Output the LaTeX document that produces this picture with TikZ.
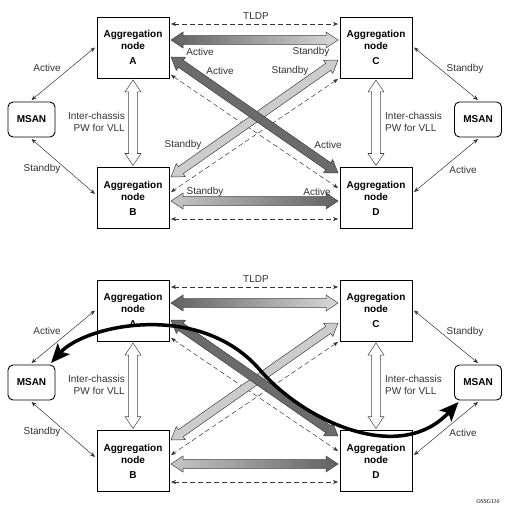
\documentclass[tikz,border=0pt]{standalone}
\usepackage{fontspec}
\setmainfont{Liberation Sans}
\newfontfamily\figfont{Liberation Serif}
\usetikzlibrary{arrows.meta, calc, positioning}

% wide double-headed arrow between two points
\newcommand{\fatarrow}[3][]{%
  \coordinate (fa1) at ($(#2)!12pt!(#3)$);
  \coordinate (fa2) at ($(#3)!12pt!(#2)$);
  \draw[fat, #1] (#2) -- ($(fa1)!8pt!90:(#3)$) -- ($(fa1)!4.3pt!90:(#3)$)
    -- ($(fa2)!4.3pt!-90:(#2)$) -- ($(fa2)!8pt!-90:(#2)$) -- (#3)
    -- ($(fa2)!8pt!90:(#2)$) -- ($(fa2)!4.3pt!90:(#2)$)
    -- ($(fa1)!4.3pt!-90:(#3)$) -- ($(fa1)!8pt!-90:(#3)$) -- cycle;
}

\begin{document}
\begin{tikzpicture}[
    x=1pt, y=-1pt,
    block/.style={rectangle, draw, line width=0.9pt, minimum width=72pt, minimum height=61pt, align=center, font=\bfseries, outer sep=2pt},
    msan/.style={rectangle, draw, rounded corners=5pt, line width=0.9pt, minimum width=47pt, minimum height=35pt, font=\bfseries, outer sep=2pt},
    lbl/.style={text=black!80, inner sep=1pt},
    link/.style={{Stealth[length=5pt,width=4pt]}-{Stealth[length=5pt,width=4pt]}, line width=0.5pt, black!80},
    dashlink/.style={link, dashed, dash pattern=on 5pt off 3pt},
    fat/.style={draw=black!75, line width=0.5pt},
    curve/.style={line width=3.5pt, {Stealth[length=19pt,width=16pt,inset=4pt]}-{Stealth[length=19pt,width=16pt,inset=4pt]}}
]
\useasboundingbox (0,0) rectangle (510,513);

% both panels: same network
\foreach \p/\dy in {t/0, b/263} {
  % Nodes
  \node (\p A) [block] at (133,47.5+\dy) {Aggregation\\node\\[3pt]A};
  \node (\p B) [block] at (133,198+\dy) {Aggregation\\node\\[3pt]B};
  \node (\p C) [block] at (376,47.5+\dy) {Aggregation\\node\\[3pt]C};
  \node (\p D) [block] at (376,198+\dy) {Aggregation\\node\\[3pt]D};
  \node (\p M1) [msan] at (31.5,119.5+\dy) {MSAN};
  \node (\p M2) [msan] at (478,119.5+\dy) {MSAN};

  % TLDP sessions
  \draw [dashlink] ([yshift=23.5pt]\p A.east) -- ([yshift=23.5pt]\p C.west);
  \draw [dashlink] ([yshift=-21pt]\p B.east) -- ([yshift=-21pt]\p D.west);
  \draw [dashlink] ([yshift=5pt]\p A.south east) -- ([yshift=10pt]\p D.west);
  \draw [dashlink] ([yshift=1pt]\p C.south west) -- ([yshift=6pt]\p B.east);
  \node (\p tldp) [lbl] at (256,16+\dy) {TLDP};

  % Spoke pseudowires
  \fatarrow[left color=black!62, right color=black!15]{[yshift=7.5pt]\p A.east}{[yshift=7.5pt]\p C.west}
  \fatarrow[left color=black!22, right color=black!62]{[yshift=-3pt]\p B.east}{[yshift=-3pt]\p D.west}
  \fatarrow[fill=black!20]{[yshift=-12.5pt]\p C.west}{[yshift=21pt]\p B.east}
  \fatarrow[fill=black!58]{[yshift=-9.5pt]\p A.east}{[yshift=25pt]\p D.west}

  % Inter-chassis PW
  \fatarrow[fill=white]{\p A.south}{\p B.north}
  \fatarrow[fill=white]{\p C.south}{\p D.north}
  \node (\p icl) [lbl, align=right, anchor=east] at (126,122+\dy) {Inter-chassis\\PW for VLL};
  \node (\p icr) [lbl, align=left, anchor=west] at (384,122+\dy) {Inter-chassis\\PW for VLL};

  % MSAN links
  \draw [link] (\p M1.north) -- (\p A.west);
  \draw [link] (\p M1.south) -- ([yshift=4pt]\p B.west);
  \draw [link] (\p M2.north) -- (\p C.east);
  \draw [link] (\p M2.south) -- ([yshift=6pt]\p D.east);
  \node (\p la) [lbl] at (47,68+\dy) {Active};
  \node (\p lb) [lbl] at (42,169+\dy) {Standby};
  \node (\p lc) [lbl] at (465,69+\dy) {Standby};
  \node (\p ld) [lbl] at (463,170+\dy) {Active};
}

% States of the spokes (upper panel)
\node (s1) [lbl] at (200,52) {Active};
\node (s2) [lbl] at (311,52) {Standby};
\node (s3) [lbl] at (220,71) {Active};
\node (s4) [lbl] at (290,71) {Standby};
\node (s5) [lbl] at (183,145) {Standby};
\node (s6) [lbl] at (328,145) {Active};
\node (s7) [lbl] at (205,192) {Standby};
\node (s8) [lbl] at (317,192) {Active};

% Traffic path (lower panel)
\coordinate (swing) at (260,370);
\draw [curve] (bM1.45) .. controls (85,325) and (200,300) .. (swing)
  .. controls (305,422) and (400,465) .. (bM2.-135);

\node (tag) [font=\figfont\itshape\fontsize{6}{7}\selectfont] at (488,502) {OSSG116};
\end{tikzpicture}
\end{document}
